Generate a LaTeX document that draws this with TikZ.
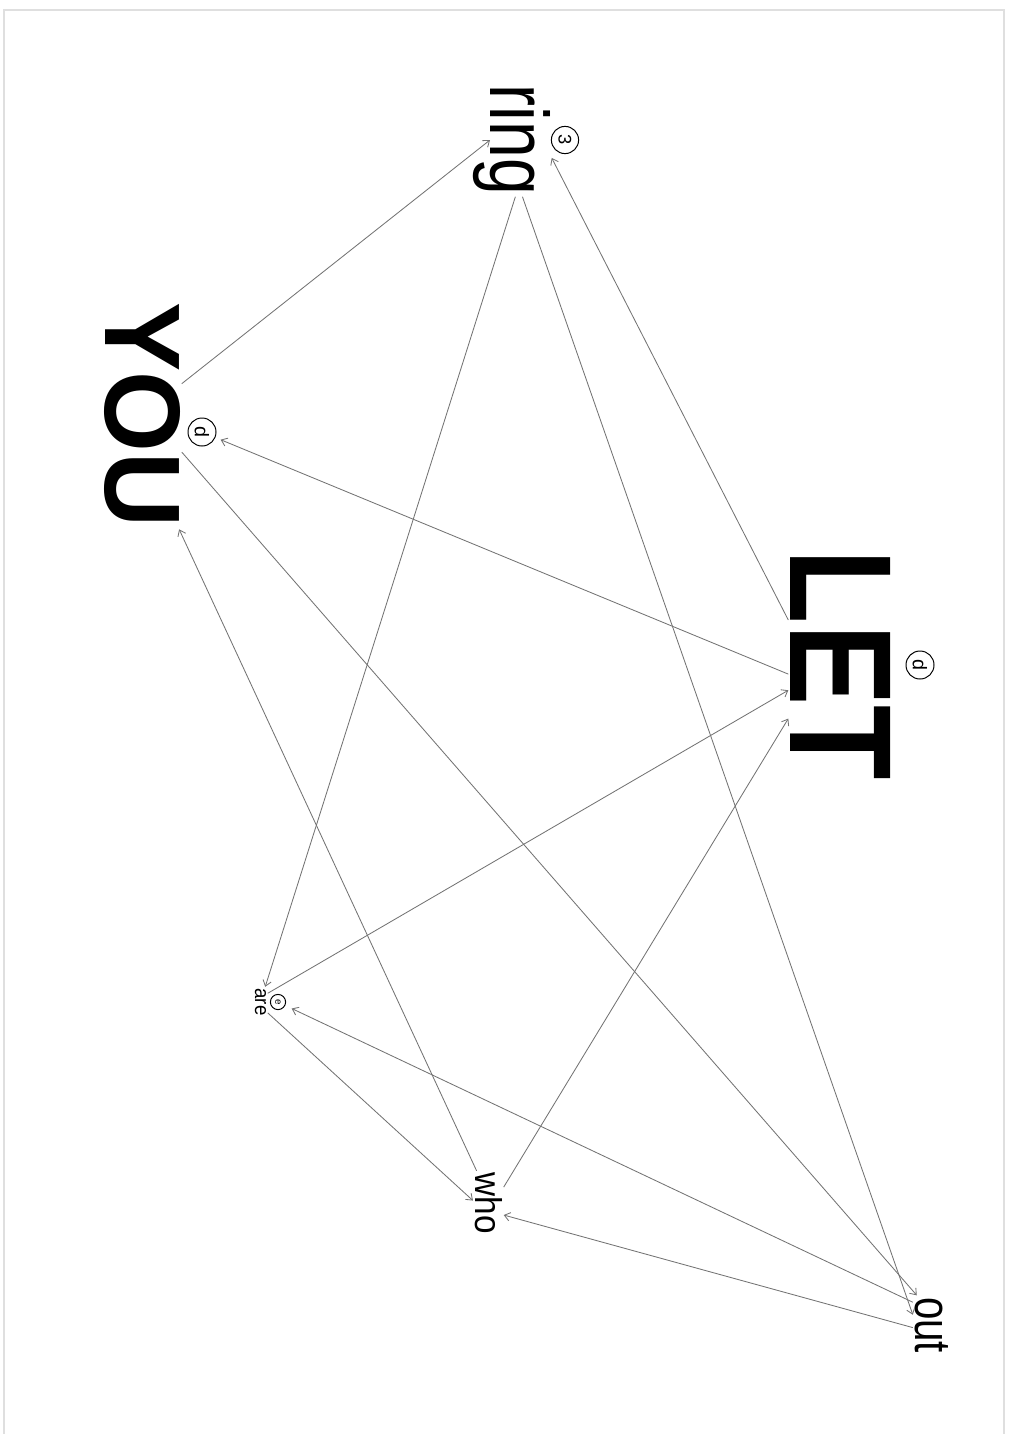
\documentclass[tikz,border=0pt]{standalone}
\usepackage{fontspec}
\usepackage{graphicx}
\setmainfont{Liberation Sans}
\usetikzlibrary{arrows.meta}
\begin{document}
\begin{tikzpicture}[x=0.025cm, y=-0.025cm,
    word/.style={rotate=-90, anchor=base, inner sep=1pt},
    tag/.style={rotate=-90, draw, circle, line width=0.7pt, inner sep=0pt, minimum size=#1},
    tag/.default=0.7cm,
    link/.style={->, black!55, line width=0.6pt},
    >={Straight Barb[length=4pt,width=6pt]}]
    \useasboundingbox (0,0) rectangle (1009,1434);
    % page edge
    \draw[gray!25, line width=1.2pt] (4,1434) -- (4,10) -- (1004,10) -- (1004,1434);
    % words
    \node[word] (you) at (105,415) {\resizebox{5.625cm}{1.875cm}{\bfseries YOU}};
    \node[word] (let) at (790,665) {\resizebox{5.75cm}{2.5cm}{\bfseries LET}};
    \node[word] (ring) at (490,140) {\resizebox{2.75cm}{1.5cm}{ring}};
    \node[word] (are) at (255,1002) {\resizebox{0.675cm}{0.275cm}{are}};
    \node[word] (who) at (475,1203) {\resizebox{1.525cm}{0.675cm}{who}};
    \node[word] (out) at (915,1325) {\resizebox{1.4cm}{0.825cm}{out}};
    % circled tags
    \node[tag, font=\fontsize{14}{14}\selectfont] (youmark) at (202,432) {d};
    \node[tag, font=\fontsize{14}{14}\selectfont] (letmark) at (920,665) {d};
    \node[tag=0.68cm, font=\fontsize{13}{13}\selectfont] (ringmark) at (565,140) {3};
    \node[tag=0.38cm, font=\fontsize{7}{7}\selectfont] (aremark) at (278,1002) {e};
    % links
    \draw[link] (you) -- (ring.base);
    \draw[link] (let.229) -- (ring.66);
    \draw[link, shorten >=4pt] (let.280) -- (youmark);
    \draw[link] (ring.4) -- (are);
    \draw[link] (ring.11) -- (out.241);
    \draw[link] (you.47) -- (out.206);
    \draw[link] (are.140) -- (let.296);
    \draw[link] (who.136) -- (let.316);
    \draw[link] (who.200) -- (you.18);
    \draw[link] (are.34) -- (who.261);
    \draw[link, shorten >=5pt] (out.219) -- (aremark);
    \draw[link] (out.278) -- (who.52);
\end{tikzpicture}
\end{document}
